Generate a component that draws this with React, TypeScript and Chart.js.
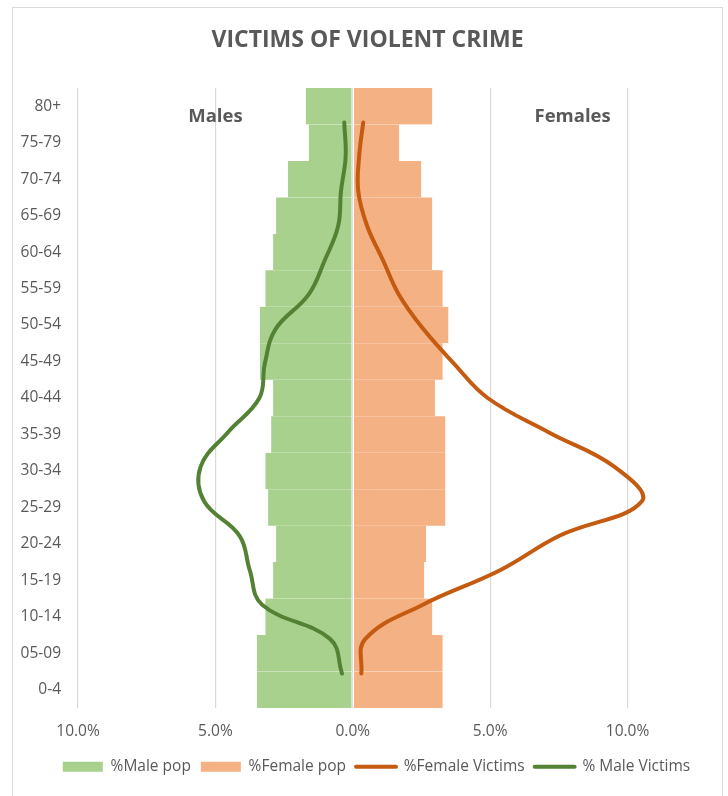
import React, { useEffect, useRef } from "react";
import { Chart, registerables } from "chart.js";

Chart.register(...registerables);

const ageGroups = [
  "0-4", "05-09", "10-14", "15-19", "20-24", "25-29", "30-34", "35-39", "40-44",
  "45-49", "50-54", "55-59", "60-64", "65-69", "70-74", "75-79", "80+",
];

// population share (%), male shown on the left (negative side)
const malePop = [3.49, 3.49, 3.18, 2.9, 2.79, 3.08, 3.18, 2.97, 2.9, 3.38, 3.38, 3.18, 2.9, 2.79, 2.36, 1.6, 1.71];
const femalePop = [3.27, 3.27, 2.89, 2.6, 2.67, 3.37, 3.37, 3.37, 2.99, 3.27, 3.48, 3.27, 2.89, 2.89, 2.49, 1.69, 2.89];

// share of victims (%), smoothed lines
const femaleVictims = [0.31, 0.45, 2.55, 5.36, 7.52, 10.52, 9.53, 7.14, 4.91, 3.68, 2.57, 1.68, 1.1, 0.52, 0.2, 0.23, 0.38];
const maleVictims = [0.39, 0.82, 3.3, 3.75, 4.12, 5.41, 5.54, 4.55, 3.4, 3.2, 2.81, 1.61, 1.02, 0.53, 0.43, 0.26, 0.31];

const xTicks = [-10, -5, 0, 5, 10];

const TEXT = "#595959";
const GRID = "#D9D9D9";
const GREEN_BAR = "#A9D18E";
const ORANGE_BAR = "#F4B183";
const GREEN_LINE = "#548235";
const ORANGE_LINE = "#C55A11";
const FONT = '"Open Sans", "Liberation Sans", sans-serif';

const sideLabels = {
  id: "sideLabels",
  afterLayout(chart: any) {
    if (chart.legend) {
      chart.legend.left += 9;
      chart.legend.right += 9;
    }
  },
  afterDraw(chart: any) {
    const { ctx, chartArea, scales } = chart;
    ctx.save();
    ctx.font = `bold 18.5px ${FONT}`;
    ctx.fillStyle = TEXT;
    ctx.textAlign = "center";
    ctx.textBaseline = "middle";
    const y = chartArea.top + 29;
    ctx.fillText("Males", scales.x.getPixelForValue(-5), y);
    ctx.fillText("Females", scales.x.getPixelForValue(8), y);
    ctx.restore();
  },
};

export default function App() {
  const canvasRef = useRef<HTMLCanvasElement | null>(null);

  useEffect(() => {
    if (!canvasRef.current) return;
    Chart.defaults.font.family = FONT;
    const chart = new Chart(canvasRef.current, {
      type: "bar",
      data: {
        labels: ageGroups,
        datasets: [
          {
            type: "bar",
            label: "%Male pop",
            data: malePop.map((v) => -v),
            backgroundColor: GREEN_BAR,
            borderColor: "#FFFFFF",
            borderWidth: { top: 0, bottom: 0, left: 0, right: 1 },
            borderSkipped: false,
            barPercentage: 1,
            categoryPercentage: 1,
            grouped: false,
            xAxisID: "x",
            yAxisID: "y",
            order: 2,
          } as any,
          {
            type: "bar",
            label: "%Female pop",
            data: femalePop,
            backgroundColor: ORANGE_BAR,
            borderColor: "#FFFFFF",
            borderWidth: { top: 0, bottom: 0, left: 1, right: 0 },
            borderSkipped: false,
            barPercentage: 1,
            categoryPercentage: 1,
            grouped: false,
            xAxisID: "x",
            yAxisID: "y",
            order: 2,
          } as any,
          {
            type: "line",
            label: "%Female Victims",
            data: femaleVictims.map((v, i) => ({ x: v, y: i })),
            borderColor: ORANGE_LINE,
            backgroundColor: ORANGE_LINE,
            borderWidth: 4,
            borderCapStyle: "round",
            pointRadius: 0,
            tension: 0.4,
            indexAxis: "y",
            xAxisID: "x",
            yAxisID: "y2",
            order: 0,
          } as any,
          {
            type: "line",
            label: "% Male Victims",
            data: maleVictims.map((v, i) => ({ x: -v, y: i })),
            borderColor: GREEN_LINE,
            backgroundColor: GREEN_LINE,
            borderWidth: 4,
            borderCapStyle: "round",
            pointRadius: 0,
            tension: 0.4,
            indexAxis: "y",
            xAxisID: "x",
            yAxisID: "y2",
            order: 0,
          } as any,
        ],
      },
      options: {
        indexAxis: "y",
        animation: false,
        responsive: true,
        maintainAspectRatio: false,
        layout: { padding: { left: 12, right: 5, top: 7, bottom: 11.5 } },
        scales: {
          x: {
            type: "linear",
            position: "bottom",
            min: -10,
            max: 12,
            afterBuildTicks: (scale: any) => {
              scale.ticks = xTicks.map((v) => ({ value: v }));
            },
            afterFit: (scale: any) => {
              scale.height = 41;
            },
            grid: { color: GRID, lineWidth: 1.2, drawTicks: false },
            border: { display: false },
            ticks: {
              color: TEXT,
              font: { size: 15.5 },
              padding: 14,
              callback: (v: any) => Math.abs(Number(v)).toFixed(1) + "%",
            },
          },
          y: {
            type: "category",
            position: "left",
            reverse: true,
            offset: true,
            afterFit: (scale: any) => {
              scale.width = 66;
            },
            grid: { display: false, drawTicks: false },
            border: { display: false },
            ticks: { color: TEXT, font: { size: 15.5 }, padding: 17, autoSkip: false },
          },
          y2: {
            type: "linear",
            position: "right",
            min: -1,
            max: 17,
            offset: false,
            afterFit: (scale: any) => {
              scale.width = 40.5;
            },
            grid: { display: false, drawTicks: false, offset: false },
            border: { display: false },
            ticks: { display: false },
          },
        } as any,
        plugins: {
          title: {
            display: true,
            text: "VICTIMS OF VIOLENT CRIME",
            color: TEXT,
            font: { size: 23, weight: "bold" },
            padding: { top: 20, bottom: 33.4 },
          },
          legend: {
            display: true,
            position: "bottom",
            labels: {
              color: TEXT,
              font: { size: 15.5 },
              usePointStyle: true,
              pointStyleWidth: 40,
              boxHeight: 10,
              padding: 10,
              sort: (a: any, b: any) => a.datasetIndex - b.datasetIndex,
              generateLabels: (ch: any) => {
                const items = Chart.defaults.plugins.legend.labels.generateLabels(ch);
                return items.map((it: any) => {
                  const ds: any = ch.data.datasets[it.datasetIndex];
                  const isLine = ds.type === "line";
                  return {
                    ...it,
                    pointStyle: isLine ? "line" : "rect",
                    lineWidth: isLine ? 4 : 0,
                    lineCap: "round",
                    fillStyle: isLine ? ds.borderColor : ds.backgroundColor,
                    strokeStyle: isLine ? ds.borderColor : ds.backgroundColor,
                    fontColor: TEXT,
                  };
                });
              },
            },
          },
          tooltip: { enabled: false },
        },
      } as any,
      plugins: [sideLabels],
    });
    return () => chart.destroy();
  }, []);

  return (
    <div style={{ position: "fixed", left: 0, top: 0, width: 728, height: 796, background: "#FFFFFF" }}>
      <div
        style={{
          position: "absolute",
          left: 12,
          top: 7,
          width: 711,
          height: 820,
          border: `1px solid ${GRID}`,
          boxSizing: "border-box",
        }}
      />
      <div style={{ position: "absolute", left: 0, top: 0, width: 728, height: 796 }}>
        <canvas ref={canvasRef} />
      </div>
    </div>
  );
}
